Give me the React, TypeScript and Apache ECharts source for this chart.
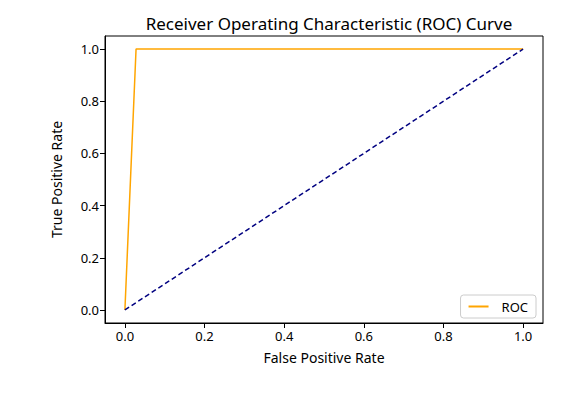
import React, { useEffect, useRef } from "react";
import * as echarts from "echarts";

const rocFpr = [0, 0.028, 1];
const rocTpr = [0, 1, 1];
const diagX = [0, 1];
const diagY = [0, 1];
const tickValues = [0, 0.2, 0.4, 0.6, 0.8, 1.0];

export default function App() {
  const ref = useRef<HTMLDivElement>(null);
  useEffect(() => {
    if (!ref.current) return;
    const chart = echarts.init(ref.current, null, { renderer: "svg" });
    const font = "Noto Sans";
    const axisCommon = (name: string, isY: boolean) => ({
      type: "value",
      min: -0.05,
      max: 1.05,
      name,
      nameLocation: "middle",
      nameGap: isY ? 42 : 27,
      nameTextStyle: { fontFamily: font, fontSize: 14, color: "#000" },
      axisLine: { show: true, onZero: false, lineStyle: { color: "#000", width: 1 } },
      axisTick: { show: true, length: 5, customValues: tickValues, lineStyle: { color: "#000" } },
      axisLabel: {
        customValues: tickValues,
        formatter: (v: number) => v.toFixed(1),
        fontFamily: font,
        fontSize: 13,
        color: "#000",
        margin: 6,
      },
      splitLine: { show: false },
    });
    chart.setOption({
      animation: false,
      backgroundColor: "#fff",
      title: {
        text: "Receiver Operating Characteristic (ROC) Curve",
        left: 324,
        textAlign: "center",
        top: 10,
        textStyle: { fontFamily: font, fontSize: 17, fontWeight: "normal", color: "#000" },
      },
      grid: { left: 105, right: 42, top: 36, bottom: 70, show: true, borderColor: "#000", borderWidth: 1 },
      xAxis: axisCommon("False Positive Rate", false),
      yAxis: axisCommon("True Positive Rate", true),
      legend: {
        right: 49,
        bottom: 75,
        orient: "vertical",
        data: [{ name: "ROC", icon: "path://M0,0H20V2H0Z" }],
        itemWidth: 28,
        itemHeight: 2,
        itemGap: 8,
        padding: [5, 8, 5, 8],
        borderColor: "#ccc",
        borderWidth: 1,
        borderRadius: 3,
        backgroundColor: "#fff",
        textStyle: { fontFamily: font, fontSize: 13, color: "#000", padding: [0, 0, 0, 4] },
      },
      series: [
        {
          name: "ROC",
          type: "line",
          data: rocFpr.map((x, i) => [x, rocTpr[i]]),
          showSymbol: false,
          lineStyle: { color: "#ffa500", width: 1.5 },
          itemStyle: { color: "#ffa500" },
        },
        {
          name: "diag",
          type: "line",
          data: diagX.map((x, i) => [x, diagY[i]]),
          showSymbol: false,
          lineStyle: { color: "#000080", width: 1.5, type: [5, 3] },
          itemStyle: { color: "#000080" },
        },
      ],
    });
    return () => chart.dispose();
  }, []);
  return <div ref={ref} style={{ width: 585, height: 393, position: "absolute", left: 0, top: 0 }} />;
}
